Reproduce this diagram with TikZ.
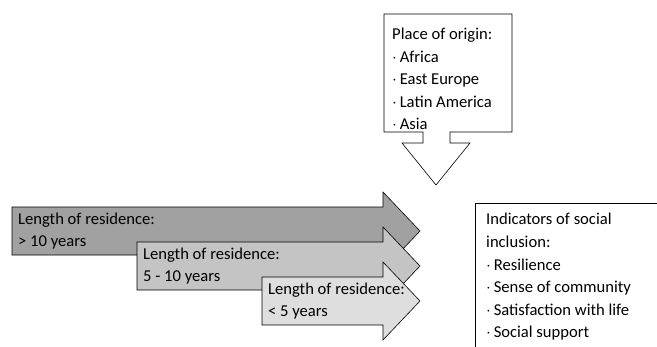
\documentclass[tikz,border=0pt]{standalone}
\usepackage{fontspec}
\setmainfont{Carlito}
\usepackage{tikz}

\begin{document}
\begin{tikzpicture}[x=1pt, y=-1pt,
    txt/.style={align=left, anchor=west, inner sep=0pt, font=\fontsize{16.6}{22.6}\selectfont}]
    \useasboundingbox (0,0) rectangle (657,346);
    \clip (0,0) rectangle (657,346);
    % Residence arrows
    \foreach \i/\col/\lbl in {0/black!37/{> 10 years}, 1/black!23/{5 - 10 years}, 2/black!13/{< 5 years}} {
        \pgfmathsetmacro{\L}{12+125*\i}
        \pgfmathsetmacro{\M}{231+35*\i}
        \draw[fill=\col, line width=.6pt, line join=miter]
            (\L,\M-24) -- (383,\M-24) -- (383,\M-39) -- (420,\M) -- (383,\M+39)
            -- (383,\M+24) -- (\L,\M+24) -- cycle;
        \node[txt] (Res-\i) at (\L+6,\M) {Length of residence:\\\lbl};
    }
    % Place of origin
    \draw[fill=white, line width=.6pt]
        (384,14) -- (512,14) -- (512,132) -- (450,132) -- (450,143) -- (470,143)
        -- (436,185) -- (402,143) -- (423,143) -- (423,132) -- (384,132) -- cycle;
    \node[txt] (Origin) at (392,79) {Place of origin:\\$\cdot$\,Africa\\$\cdot$\,East Europe\\$\cdot$\,Latin America\\$\cdot$\,Asia};
    % Indicators
    \draw[fill=white, line width=.6pt] (475,203) rectangle (680,370);
    \node[txt] (Indicators) at (486,277) {Indicators of social\\inclusion:\\$\cdot$\,Resilience\\$\cdot$\,Sense of community\\$\cdot$\,Satisfaction with life\\$\cdot$\,Social support};
\end{tikzpicture}
\end{document}
